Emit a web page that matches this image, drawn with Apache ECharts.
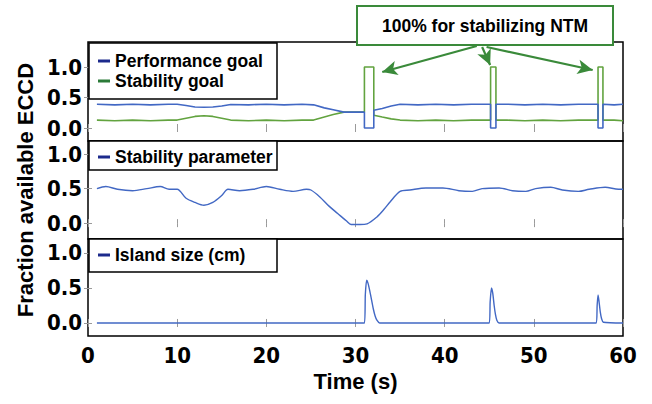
<!DOCTYPE html>
<html><head><meta charset="utf-8">
<script src="https://cdn.jsdelivr.net/npm/echarts@6/dist/echarts.min.js"></script>
<style>html,body{margin:0;padding:0;background:#fff}#c{width:652px;height:404px}</style>
</head><body><div id="c"></div>
<script>
// ---- data ----
const yTickValues = [0, 0.5, 1.0];
const seriesNames = ['Performance goal', 'Stability goal', 'Stability parameter', 'Island size (cm)'];

const perfT = [1, 3, 5, 7, 9, 10, 11, 12, 13, 14, 15, 16, 18, 20, 22, 24, 25.3, 26.5, 27.5, 28.7, 30, 31.0, 31.0, 32.05, 32.05, 33, 34, 35, 37, 39, 41, 43, 45.15, 45.15, 45.75, 45.75, 47, 49, 51, 53, 55, 57.2, 57.2, 57.75, 57.75, 59, 60];
const perfV = [0.39, 0.38, 0.39, 0.38, 0.39, 0.39, 0.37, 0.345, 0.34, 0.345, 0.36, 0.385, 0.38, 0.39, 0.38, 0.39, 0.38, 0.33, 0.30, 0.26, 0.26, 0.26, 0.0, 0.0, 0.29, 0.32, 0.36, 0.39, 0.38, 0.39, 0.38, 0.39, 0.39, 0.0, 0.0, 0.39, 0.39, 0.38, 0.39, 0.38, 0.39, 0.39, 0.0, 0.0, 0.39, 0.38, 0.39];

const stabGoalT = [1, 3, 5, 7, 9, 10, 11, 12, 13, 14, 15, 16, 18, 20, 22, 24, 25.3, 26.5, 27.5, 28.7, 30, 31.0, 31.0, 32.05, 32.05, 33, 34, 35, 37, 39, 41, 43, 45.15, 45.15, 45.75, 45.75, 47, 49, 51, 53, 55, 57.2, 57.2, 57.75, 57.75, 59, 60];
const stabGoalV = [0.13, 0.12, 0.13, 0.12, 0.13, 0.13, 0.16, 0.19, 0.20, 0.19, 0.16, 0.13, 0.12, 0.13, 0.12, 0.13, 0.13, 0.18, 0.22, 0.26, 0.26, 0.26, 1.0, 1.0, 0.21, 0.18, 0.15, 0.13, 0.12, 0.13, 0.12, 0.13, 0.13, 1.0, 1.0, 0.13, 0.13, 0.12, 0.13, 0.12, 0.13, 0.13, 1.0, 1.0, 0.13, 0.13, 0.12];

const stabParT = [1, 2, 3.3, 5, 6.6, 8.1, 9.1, 10, 11, 12, 13, 14, 15, 15.7, 17, 18.5, 20, 21.5, 23, 24.5, 25, 26, 27, 28, 29, 29.5, 30.5, 31.3, 32.4, 33.2, 33.9, 35, 36.1, 37.9, 39.8, 41.6, 43.1, 44.2, 46.1, 47.6, 49.1, 50.2, 51.9, 53.2, 55, 56.2, 58, 59.5, 60];
const stabParV = [0.50, 0.53, 0.49, 0.47, 0.50, 0.53, 0.49, 0.49, 0.36, 0.30, 0.26, 0.30, 0.40, 0.49, 0.47, 0.49, 0.53, 0.49, 0.46, 0.49, 0.48, 0.38, 0.25, 0.14, 0.03, -0.02, -0.02, -0.01, 0.09, 0.20, 0.31, 0.46, 0.48, 0.51, 0.51, 0.47, 0.46, 0.50, 0.51, 0.47, 0.46, 0.50, 0.52, 0.48, 0.46, 0.49, 0.52, 0.49, 0.49];

const islandT = [1, 31.0, 31.1, 31.25, 31.4, 31.6, 31.8, 32.0, 32.2, 32.4, 32.7, 45.0, 45.1, 45.25, 45.4, 45.55, 45.7, 45.85, 46.1, 57.0, 57.1, 57.2, 57.3, 57.45, 57.6, 57.8, 60];
const islandV = [0, 0, 0.40, 0.61, 0.57, 0.46, 0.33, 0.20, 0.10, 0.04, 0, 0, 0.30, 0.50, 0.42, 0.25, 0.12, 0.04, 0, 0, 0.25, 0.40, 0.32, 0.16, 0.06, 0.01, 0];

const annotationText = '100% for stabilizing NTM';
const arrowFrom = [[43.6, 1.344], [44.2, 1.328], [44.7, 1.328]];
const arrowTo = [[33.0, 0.918], [45.1, 1.033], [56.6, 0.951]];

// ---- styling ----
const FONT = '"Liberation Sans", Arial, Helvetica, sans-serif';
const NARROW = '"Liberation Sans Narrow", "DejaVu Sans Condensed", "Liberation Sans", sans-serif';
const BLUE = '#4268c4', GREEN = '#62a33f';
const BLUE_KEY = '#1c2a8c', GREEN_KEY = '#2b7a38';
const ARROW = '#3a8a3a';

const zip = (a, b) => a.map((t, i) => [t, b[i]]);

const gridBoxes = [
  {left: 88, top: 42, width: 535, height: 99},
  {left: 88, top: 141, width: 535, height: 98},
  {left: 88, top: 239, width: 535, height: 97}
];
const yRanges = [[-0.213, 1.41], [-0.23, 1.19], [-0.186, 1.2]];

const grid = gridBoxes.map(g => Object.assign({show: true, borderColor: '#000', borderWidth: 1.5, backgroundColor: 'transparent'}, g));

const tickStyle = {inside: true, length: 4, lineStyle: {color: '#9a9a9a', width: 1}};
const xAxis = [];
const yAxis = [];
for (let i = 0; i < 3; i++) {
  ['bottom', 'top'].forEach(pos => {
    const ax = {
      gridIndex: i, type: 'value', min: 0, max: 60, interval: 10, position: pos,
      axisLine: {show: false}, splitLine: {show: false},
      axisTick: tickStyle,
      axisLabel: {show: false}
    };
    if (i === 2 && pos === 'bottom') {
      ax.axisLabel = {show: true, margin: 8, color: '#000', fontFamily: NARROW, fontWeight: 'bold', fontSize: 22};
      ax.name = 'Time (s)';
      ax.nameLocation = 'middle';
      ax.nameGap = 34;
      ax.nameTextStyle = {color: '#000', fontFamily: FONT, fontWeight: 'bold', fontSize: 22};
    }
    xAxis.push(ax);
  });
  ['left', 'right'].forEach(pos => {
    const ay = {
      gridIndex: i, type: 'value', min: yRanges[i][0], max: yRanges[i][1], position: pos,
      axisLine: {show: false}, splitLine: {show: false},
      axisTick: Object.assign({customValues: yTickValues}, tickStyle),
      axisLabel: pos === 'left'
        ? {show: true, customValues: yTickValues, formatter: v => v.toFixed(1), margin: 6, color: '#000', fontFamily: NARROW, fontWeight: 'bold', fontSize: 22}
        : {show: false}
    };
    if (i === 1 && pos === 'left') {
      ay.name = 'Fraction available ECCD';
      ay.nameLocation = 'middle';
      ay.nameGap = 52;
      ay.nameTextStyle = {color: '#000', fontFamily: FONT, fontWeight: 'bold', fontSize: 22};
    }
    yAxis.push(ay);
  });
}

const lineBase = {type: 'line', symbol: 'none', animation: false, silent: true};
const series = [
  Object.assign({}, lineBase, {name: seriesNames[0], xAxisIndex: 0, yAxisIndex: 0, data: zip(perfT, perfV), lineStyle: {color: BLUE, width: 1.6}, itemStyle: {color: BLUE}, z: 3}),
  Object.assign({}, lineBase, {name: seriesNames[1], xAxisIndex: 0, yAxisIndex: 0, data: zip(stabGoalT, stabGoalV), lineStyle: {color: GREEN, width: 1.6}, itemStyle: {color: GREEN}, z: 2,
    markLine: {
      silent: true, animation: false, symbol: ['none', 'arrow'], symbolSize: [11, 15],
      lineStyle: {color: ARROW, width: 2.2, type: 'solid'}, label: {show: false},
      data: arrowFrom.map((f, i) => [{coord: f}, {coord: arrowTo[i]}])
    }}),
  Object.assign({}, lineBase, {name: seriesNames[2], xAxisIndex: 2, yAxisIndex: 2, data: zip(stabParT, stabParV), smooth: 0.3, lineStyle: {color: BLUE, width: 1.4}, itemStyle: {color: BLUE}}),
  Object.assign({}, lineBase, {name: seriesNames[3], xAxisIndex: 4, yAxisIndex: 4, data: zip(islandT, islandV), smooth: 0.2, lineStyle: {color: BLUE, width: 1.4}, itemStyle: {color: BLUE}})
];

const legendText = {color: '#000', fontFamily: FONT, fontWeight: 'bold', fontSize: 17.5, lineHeight: 20};
const legendBase = {orient: 'vertical', selectedMode: false, icon: 'rect', itemWidth: 12, itemHeight: 3, itemGap: 0, padding: 0, textStyle: legendText, z: 8};
const legend = [
  Object.assign({}, legendBase, {left: 98, top: 51, data: [{name: seriesNames[0], itemStyle: {color: BLUE_KEY}}, {name: seriesNames[1], itemStyle: {color: GREEN_KEY}}]}),
  Object.assign({}, legendBase, {left: 98, top: 147, data: [{name: seriesNames[2], itemStyle: {color: BLUE_KEY}}]}),
  Object.assign({}, legendBase, {left: 98, top: 245, data: [{name: seriesNames[3], itemStyle: {color: BLUE_KEY}}]})
];

const boxStyle = {fill: '#fff', stroke: '#000', lineWidth: 1.5};
const graphic = [
  {type: 'rect', z: 7, shape: {x: 89, y: 43, width: 188, height: 56}, style: boxStyle},
  {type: 'rect', z: 7, shape: {x: 89, y: 141, width: 188, height: 29}, style: boxStyle},
  {type: 'rect', z: 7, shape: {x: 89, y: 239, width: 188, height: 33}, style: boxStyle},
  {type: 'rect', z: 20, shape: {x: 357, y: 6, width: 256, height: 39}, style: {fill: '#fff', stroke: ARROW, lineWidth: 2}},
  {type: 'text', z: 21, x: 485, y: 26, style: {text: annotationText, x: 0, y: 0, align: 'center', verticalAlign: 'middle', fill: '#000', font: 'bold 17.5px "Liberation Sans", Arial, sans-serif'}}
];

const chart = echarts.init(document.getElementById('c'), null, {renderer: 'svg'});
chart.setOption({
  animation: false,
  backgroundColor: '#fff',
  grid, xAxis, yAxis, series, legend, graphic
});
</script>
</body></html>
